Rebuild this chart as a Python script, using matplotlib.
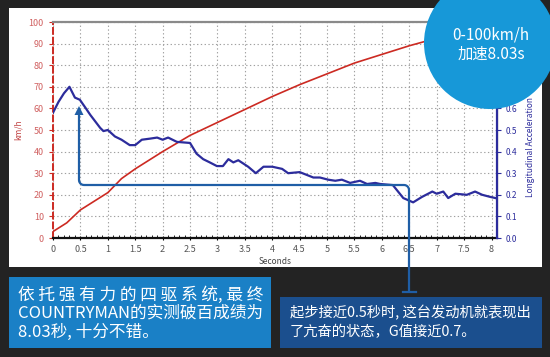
import numpy as np
import matplotlib
matplotlib.use("Agg")
import matplotlib.pyplot as plt
from matplotlib import patches
from matplotlib.lines import Line2D

plt.rcParams['font.family'] = ['Noto Sans CJK SC', 'DejaVu Sans']

# speed (km/h) vs time (s)
speed_t = [0, 0.25, 0.5, 0.75, 1.0, 1.25, 1.5, 1.75, 2.0, 2.5, 3.0, 3.5,
           4.0, 4.5, 5.0, 5.5, 6.0, 6.5, 7.0, 7.5, 8.03]
speed = [3, 7, 13, 17, 21, 27.5, 32, 36, 40, 47.5, 53.5, 59.5,
         65.5, 71, 76, 81, 85, 89, 92.5, 96, 100]

# longitudinal acceleration (G) vs time (s)
acc_t = [0.0, 0.1, 0.2, 0.3, 0.4, 0.49, 0.6, 0.68, 0.86, 0.92, 1.0, 1.13,
         1.25, 1.4, 1.5, 1.62, 1.77, 1.9, 2.0, 2.1, 2.26, 2.5, 2.62, 2.74,
         2.86, 2.99, 3.1, 3.2, 3.29, 3.38, 3.56, 3.7, 3.84, 4.0, 4.18, 4.29,
         4.5, 4.75, 4.87, 5.02, 5.15, 5.27, 5.42, 5.6, 5.73, 5.88, 5.97, 6.2,
         6.39, 6.48, 6.57, 6.73, 6.92, 7.0, 7.12, 7.21, 7.34, 7.55, 7.7, 7.83,
         7.98, 8.07]
acc = [0.58, 0.63, 0.67, 0.70, 0.65, 0.64, 0.60, 0.57, 0.51, 0.495, 0.50, 0.47,
       0.455, 0.43, 0.43, 0.455, 0.46, 0.465, 0.455, 0.465, 0.445, 0.44, 0.39, 0.365,
       0.35, 0.333, 0.333, 0.365, 0.35, 0.36, 0.33, 0.30, 0.33, 0.33, 0.32, 0.30,
       0.305, 0.28, 0.28, 0.27, 0.265, 0.27, 0.255, 0.265, 0.25, 0.255, 0.25, 0.245,
       0.185, 0.175, 0.165, 0.19, 0.215, 0.205, 0.215, 0.185, 0.205, 0.20, 0.215, 0.20,
       0.19, 0.185]

x_ticks = np.arange(0, 8.01, 0.5)
x_labels = ['0', '0.5', '1', '1.5', '2', '2.5', '3', '3.5', '4', '4.5', '5',
            '5.5', '6', '6.5', '7', '7.5', '8']
speed_ticks = list(range(0, 101, 10))
acc_ticks = [0, 0.1, 0.2, 0.3, 0.4, 0.5, 0.6, 0.7]

circle_lines = ['0-100km/h', '加速8.03s']
left_note = ['依 托 强 有 力 的 四 驱 系 统, 最 终',
             'COUNTRYMAN的实测破百成绩为',
             '8.03秒, 十分不错。']
right_note = ['起步接近0.5秒时, 这台发动机就表现出',
              '了亢奋的状态，G值接近0.7。']

W, H = 550, 357
RED = '#cc2a22'
NAVY = '#2c2c9c'
LINE_BLUE = '#1f5ea6'


def fx(x):
    return x / W


def fy(y):
    return 1 - y / H


fig = plt.figure(figsize=(5.5, 3.57), dpi=100)
fig.patch.set_facecolor('#232323')

# white panel behind the chart
fig.add_artist(patches.Rectangle((fx(9), fy(267)), 533 / W, 259 / H,
                                 transform=fig.transFigure, facecolor='white',
                                 edgecolor='none', zorder=-1))

ax = fig.add_axes([fx(53), fy(238), 444 / W, 216 / H])
ax.plot(speed_t, speed, color=RED, lw=1.2, zorder=3)
ax.set_xlim(0, 8.1)
ax.set_ylim(0, 100)
ax.set_xticks(x_ticks)
ax.set_xticklabels(x_labels)
ax.set_xticks(np.arange(0, 8.1, 0.1), minor=True)
ax.set_yticks(speed_ticks)
ax.grid(True, color='#a0a0a0', linestyle=(0, (1.2, 2.2)), lw=0.8)
ax.tick_params(axis='y', colors=RED, labelsize=6.5, length=3, width=0.8)
ax.tick_params(axis='x', labelcolor='#555555', labelsize=6.5, length=3,
               direction='inout', width=0.8)
ax.tick_params(axis='x', which='minor', length=2, direction='in', width=0.6)
for lab in ax.get_yticklabels():
    lab.set_color('#d06060')
ax.set_ylabel('km/h', color='#c04040', fontsize=6, labelpad=4)
ax.set_xlabel('Seconds', color='#444444', fontsize=6, labelpad=2)
ax.spines['left'].set_color(RED)
ax.spines['left'].set_linestyle((0, (3, 2)))
ax.spines['left'].set_linewidth(1.4)
ax.spines['top'].set_color('#8a8a8a')
ax.spines['top'].set_linewidth(1.6)
ax.spines['bottom'].set_color('#111111')
ax.spines['bottom'].set_linewidth(1.6)

ax2 = ax.twinx()
ax2.plot(acc_t, acc, color=NAVY, lw=1.6, zorder=3)
ax2.set_ylim(0, 1.0)
ax2.set_yticks(acc_ticks)
ax2.tick_params(axis='y', colors=NAVY, labelsize=6, length=3, width=0.8)
ax2.set_ylabel('Longitudinal Acceleration', color=NAVY, fontsize=6, labelpad=3)
ax2.yaxis.set_label_coords(1.065, 0.42)
ax2.spines['right'].set_color(NAVY)
ax2.spines['right'].set_linewidth(1.6)
ax2.spines['left'].set_visible(False)
ax2.spines['top'].set_visible(False)
ax2.spines['bottom'].set_visible(False)

# connector from the peak note down to the right text box
r = 5
arc = np.linspace(0, np.pi / 2, 8)
px = [79, 79]
py = [112, 185 - r]
px += list(79 + r - r * np.cos(arc))
py += list(185 - r + r * np.sin(arc))
px += [409 - r]
py += [185]
px += list(409 - r + r * np.sin(arc))
py += list(185 + r - r * np.cos(arc))
px += [409, 409]
py += [185 + r, 292]
fig.add_artist(Line2D([fx(v) for v in px], [fy(v) for v in py],
                      transform=fig.transFigure, color=LINE_BLUE, lw=1.6,
                      solid_capstyle='butt', zorder=6))
fig.add_artist(Line2D([fx(403), fx(416)], [fy(292), fy(292)],
                      transform=fig.transFigure, color=LINE_BLUE, lw=1.6, zorder=6))
fig.add_artist(patches.Polygon([(fx(79), fy(106)), (fx(74.5), fy(115)), (fx(83.5), fy(115))],
                               closed=True, transform=fig.transFigure,
                               facecolor=LINE_BLUE, edgecolor='none', zorder=6))

# blue circle badge
fig.add_artist(patches.Ellipse((fx(490), fy(43)), 2 * 66 / W, 2 * 66 / H,
                               transform=fig.transFigure, facecolor='#1798d8',
                               edgecolor='none', zorder=7))
fig.text(fx(491), fy(35), circle_lines[0], color='white', fontsize=11,
         ha='center', va='center', zorder=8)
fig.text(fx(491), fy(54), circle_lines[1], color='white', fontsize=11,
         ha='center', va='center', zorder=8)

# text boxes
fig.add_artist(patches.Rectangle((fx(9), fy(348)), 262 / W, 71 / H,
                                 transform=fig.transFigure, facecolor='#1a80c6',
                                 edgecolor='none', zorder=7))
for i, line in enumerate(left_note):
    fig.text(fx(18), fy(295 + i * 18.5), line, color='white', fontsize=12,
             ha='left', va='center', zorder=8)

fig.add_artist(patches.Rectangle((fx(280), fy(348)), 262 / W, 51 / H,
                                 transform=fig.transFigure, facecolor='#1b4f8e',
                                 edgecolor='none', zorder=7))
for i, line in enumerate(right_note):
    fig.text(fx(290), fy(313 + i * 19), line, color='white', fontsize=10.3,
             ha='left', va='center', zorder=8)

fig.savefig('out.png', dpi=100, facecolor=fig.get_facecolor())
